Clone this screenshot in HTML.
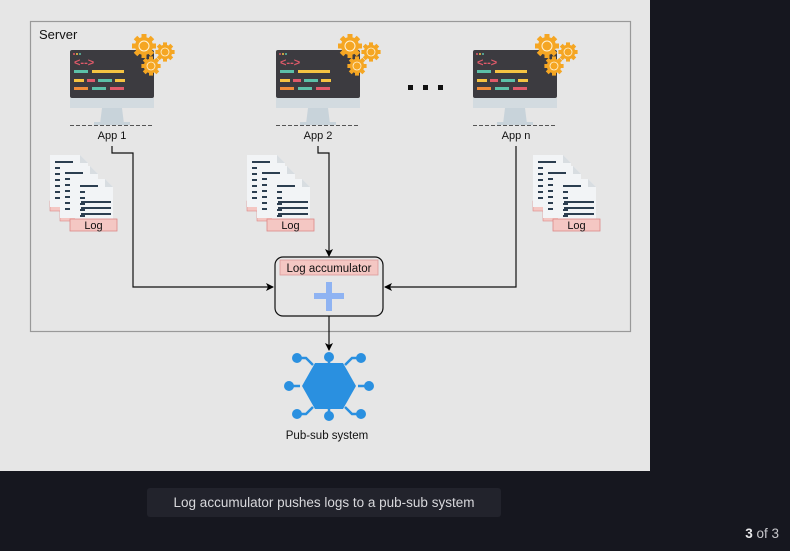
<!DOCTYPE html>
<html><head><meta charset="utf-8"><style>
html,body{margin:0;padding:0;background:#16171f;width:790px;height:551px;overflow:hidden;font-family:"Liberation Sans",sans-serif}
</style></head><body>
<svg width="790" height="551" viewBox="0 0 790 551" xmlns="http://www.w3.org/2000/svg" font-family="Liberation Sans, sans-serif">
<defs>
<g id="gear">
  <circle r="9" fill="#f5a623"/>
  <g fill="#f5a623">
    <rect x="-2.5" y="-12" width="5" height="24"/>
    <rect x="-2.5" y="-12" width="5" height="24" transform="rotate(45)"/>
    <rect x="-2.5" y="-12" width="5" height="24" transform="rotate(90)"/>
    <rect x="-2.5" y="-12" width="5" height="24" transform="rotate(135)"/>
  </g>
  <circle r="5.5" fill="#fff3d6"/>
  <circle r="4.5" fill="#f5a623"/>
</g>
<g id="mon">
  <rect x="0" y="0" width="84" height="48" rx="2" fill="#3c3b40"/>
  <rect x="0" y="48" width="84" height="10" fill="#d3dbe0"/>
  <path d="M32 58 L52 58 L54 74 L30 74 Z" fill="#c8d3da"/>
  <rect x="24" y="72" width="36" height="3" fill="#c8d3da"/>
  <line x1="0" y1="75.5" x2="84" y2="75.5" stroke="#555" stroke-dasharray="4 2" stroke-width="1"/>
  <circle cx="4" cy="4" r="1" fill="#e05a6a"/><circle cx="7" cy="4" r="1" fill="#f5c342"/><circle cx="10" cy="4" r="1" fill="#5cc0a8"/>
  <text x="4" y="16" font-size="11" fill="#e05a6a" font-weight="bold">&lt;--&gt;</text>
  <rect x="4" y="20" width="14" height="3" fill="#5cc0a8"/><rect x="22" y="20" width="32" height="3" fill="#f5c342"/>
  <rect x="4" y="29" width="10" height="3" fill="#f5c342"/><rect x="17" y="29" width="8" height="3" fill="#e05a6a"/><rect x="28" y="29" width="14" height="3" fill="#5cc0a8"/><rect x="45" y="29" width="10" height="3" fill="#f5c342"/>
  <rect x="4" y="37" width="14" height="3" fill="#f08c3a"/><rect x="22" y="37" width="14" height="3" fill="#5cc0a8"/><rect x="40" y="37" width="14" height="3" fill="#e05a6a"/>
  <use href="#gear" x="74" y="-4"/>
  <g transform="translate(95,2) scale(0.8)"><use href="#gear"/></g>
  <g transform="translate(81,16) scale(0.8)"><use href="#gear"/></g>
</g>
<g id="page">
  <path d="M0 0 H30 L38 8 V52 H0 Z" fill="#f2f4f6"/>
  <path d="M30 0 V8 H38" fill="#d8dde1"/>
  <g fill="#2c3e50">
   <rect x="5" y="6" width="18" height="2"/>
   <rect x="5" y="12" width="5" height="2"/><rect x="5" y="18" width="5" height="2"/><rect x="5" y="24" width="5" height="2"/><rect x="5" y="30" width="5" height="2"/><rect x="5" y="36" width="5" height="2"/><rect x="5" y="42" width="5" height="2"/>
  </g>
</g>
<g id="logs">
  <rect x="0" y="46" width="30" height="10" fill="#f4c7c3" stroke="#d88" stroke-width="0.6"/>
  <use href="#page" x="0" y="0"/>
  <rect x="10" y="56" width="30" height="10" fill="#f4c7c3" stroke="#d88" stroke-width="0.6"/>
  <use href="#page" x="10" y="11"/>
  <use href="#page" x="25" y="24"/>
  <g fill="#2c3e50"><rect x="31" y="46" width="30" height="2"/><rect x="31" y="52" width="30" height="2"/><rect x="31" y="58" width="30" height="2"/></g>
  <rect x="20" y="64" width="47" height="12" fill="#f4c7c3" stroke="#d88" stroke-width="0.8"/>
  <text x="43.5" y="74" font-size="11" text-anchor="middle" fill="#111">Log</text>
</g>
<marker id="ar" markerWidth="8" markerHeight="8" refX="7" refY="4" orient="auto" markerUnits="userSpaceOnUse"><path d="M0 0 L8 4 L0 8 L2 4 Z" fill="#000"/></marker>
</defs>
<rect x="0" y="0" width="650" height="471" fill="#e6e6e6"/>
<rect x="30.5" y="21.5" width="600" height="310" fill="none" stroke="#999" stroke-width="1.2"/>
<text x="39" y="39" font-size="13" fill="#111">Server</text>

<use href="#mon" x="70" y="50"/>
<use href="#mon" x="276" y="50"/>
<use href="#mon" x="473" y="50"/>
<text x="112" y="139" font-size="11" text-anchor="middle" fill="#111">App 1</text>
<text x="318" y="139" font-size="11" text-anchor="middle" fill="#111">App 2</text>
<text x="516" y="139" font-size="11" text-anchor="middle" fill="#111">App n</text>
<g fill="#111"><rect x="408" y="85" width="5" height="5"/><rect x="423" y="85" width="5" height="5"/><rect x="438" y="85" width="5" height="5"/></g>

<use href="#logs" x="50" y="155"/>
<use href="#logs" x="247" y="155"/>
<use href="#logs" x="533" y="155"/>

<g fill="none" stroke="#111" stroke-width="1.2">
  <polyline points="112,146 112,153 133,153 133,287 273,287" marker-end="url(#ar)"/>
  <polyline points="318,146 318,153 329,153 329,256" marker-end="url(#ar)"/>
  <polyline points="516,146 516,287 385,287" marker-end="url(#ar)"/>
  <polyline points="329,316 329,350" marker-end="url(#ar)"/>
</g>
<rect x="275" y="257" width="108" height="59" rx="8" fill="#e6e6e6" stroke="#111" stroke-width="1.2"/>
<rect x="280" y="260" width="98" height="15" fill="#f4c7c3" stroke="#d99" stroke-width="0.8"/>
<text x="329" y="272" font-size="11.5" text-anchor="middle" fill="#111">Log accumulator</text>
<rect x="326" y="282" width="6" height="29" fill="#8fb3f2"/>
<rect x="314" y="293" width="30" height="6" fill="#8fb3f2"/>

<g stroke="#2a90e0" stroke-width="2.5" fill="none">
  <polyline points="297,358 306,358 313,365"/>
  <polyline points="361,358 352,358 345,365"/>
  <polyline points="297,414 306,414 313,407"/>
  <polyline points="361,414 352,414 345,407"/>
  <line x1="329" y1="358" x2="329" y2="366"/><line x1="329" y1="406" x2="329" y2="414"/>
  <line x1="289" y1="386" x2="300" y2="386"/><line x1="358" y1="386" x2="369" y2="386"/>
</g>
<polygon points="302,386 315,363 343,363 356,386 343,409 315,409" fill="#2a90e0"/>
<g fill="#2a90e0">
  <circle cx="297" cy="358" r="5"/><circle cx="329" cy="357" r="5"/><circle cx="361" cy="358" r="5"/>
  <circle cx="289" cy="386" r="5"/><circle cx="369" cy="386" r="5"/>
  <circle cx="297" cy="414" r="5"/><circle cx="329" cy="416" r="5"/><circle cx="361" cy="414" r="5"/>
</g>
<text x="327" y="439" font-size="11.5" text-anchor="middle" fill="#111">Pub-sub system</text>

<rect x="147" y="488" width="354" height="29" rx="3" fill="#22232c"/>
<text x="324" y="507" font-size="13.5" text-anchor="middle" fill="#d8d8dc">Log accumulator pushes logs to a pub-sub system</text>
<text x="779" y="538" font-size="13.5" text-anchor="end" fill="#c8c8cc"><tspan font-weight="bold" fill="#e8e8ea">3</tspan> of 3</text>
</svg>
</body></html>
